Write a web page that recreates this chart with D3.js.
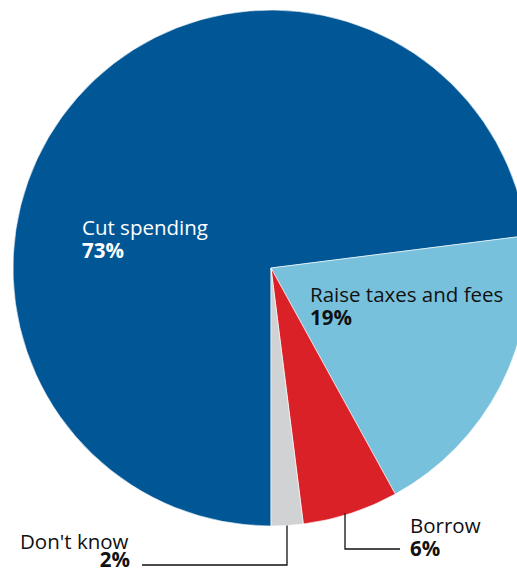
<!DOCTYPE html>
<html><head><meta charset="utf-8">
<script src="https://cdn.jsdelivr.net/npm/d3@7"></script>
<style>html,body{margin:0;padding:0;background:#fff;overflow:hidden}</style>
</head><body>
<svg id="c" width="517" height="571"></svg>
<script>
const categories = ["Cut spending", "Raise taxes and fees", "Borrow", "Don't know"];
const values = [73, 19, 6, 2];
const colors = ["#015796", "#78c1dc", "#da2128", "#d1d2d4"];

const svg = d3.select("#c");
const cx = 271, cy = 268, r = 258;
const g = svg.append("g").attr("transform", `translate(${cx},${cy})`);
const pie = d3.pie().sort(null).startAngle(Math.PI).endAngle(3 * Math.PI);
const arcs = pie(values);
const arc = d3.arc().innerRadius(0).outerRadius(r);
g.selectAll("path").data(arcs).enter().append("path")
  .attr("d", arc).attr("fill", (d, i) => colors[i])
  .attr("stroke", "#fff").attr("stroke-width", 0.6);

const font = "'Open Sans', Lato, sans-serif";
const fs = 20.5;
function label(x, y, name, pct, fill) {
  const t = svg.append("text").attr("font-family", font).attr("font-size", fs)
    .attr("fill", fill);
  t.append("tspan").attr("x", x).attr("y", y).text(name);
  t.append("tspan").attr("x", x).attr("dy", 23)
    .attr("font-weight", "bold").text(pct + "%");
  return t;
}
label(82, 235, categories[0], values[0], "#fff");
label(310, 302, categories[1], values[1], "#111");
label(410, 533, categories[2], values[2], "#111");
svg.append("text").attr("font-family", font).attr("font-size", fs).attr("fill", "#111")
  .attr("x", 20).attr("y", 549).text(categories[3]);
svg.append("text").attr("font-family", font).attr("font-size", fs).attr("fill", "#111")
  .attr("font-weight", "bold").attr("x", 130).attr("y", 567).attr("text-anchor", "end")
  .text(values[3] + "%");

// leader lines
const line = d3.line();
const edgeY = x => cy + Math.sqrt(r * r - (x - cx) * (x - cx));
svg.append("path").attr("d", line([[345, edgeY(345) - 2], [345, 549], [400, 549]]))
  .attr("fill", "none").attr("stroke", "#111").attr("stroke-width", 1.3);
svg.append("path").attr("d", line([[287, edgeY(287)], [287, 565], [142, 565]]))
  .attr("fill", "none").attr("stroke", "#111").attr("stroke-width", 1.3);
</script>
</body></html>
